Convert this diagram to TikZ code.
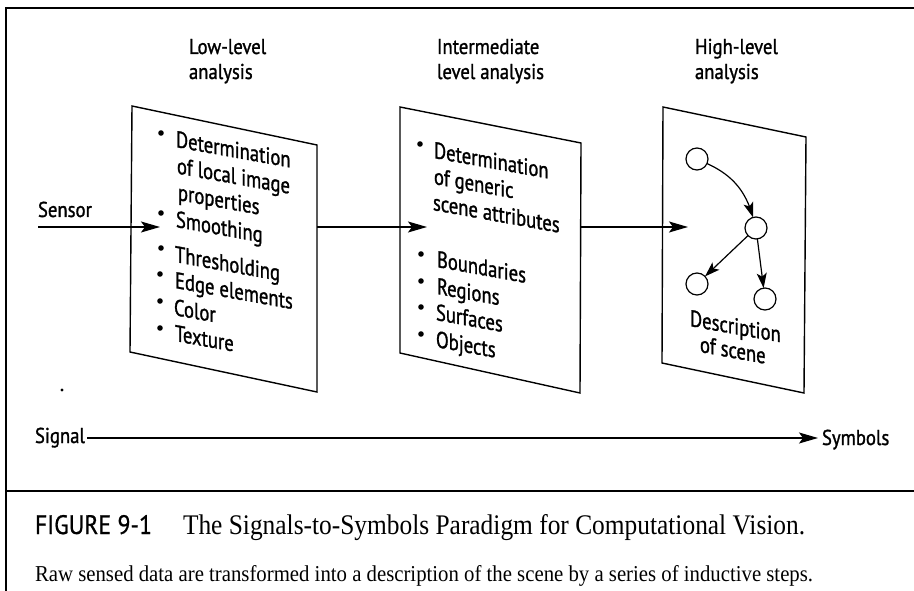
\documentclass[tikz,border=0pt]{standalone}
\usepackage{fontspec}
\setmainfont{Liberation Serif}
\newfontfamily\labelfont[FakeBold=0.8]{PT Sans}
\newfontfamily\headfont[FakeStretch=0.87,FakeBold=1.2]{PT Sans}
\newfontfamily\sheetfont[FakeStretch=0.81,FakeBold=1.2]{PT Sans}
\usetikzlibrary{arrows.meta,bending}

\begin{document}
\begin{tikzpicture}[x=1pt,y=-1pt,
  every node/.style={inner sep=0pt,outer sep=0pt},
  lbl/.style={font=\headfont\fontsize{21.5}{24}\selectfont, anchor=base west},
  item/.style={font=\sheetfont\fontsize{23}{26}\selectfont, anchor=base west, yslant=-0.18},
  bul/.style={circle, fill, minimum size=5.6pt},
  panel/.style={draw, line width=1.4pt, line join=miter},
  frame/.style={line width=1.3pt},
  flow/.style={line width=1.3pt, -{Stealth[length=19pt,width=11pt,inset=4pt]}},
  vert/.style={circle, draw, line width=1.2pt, minimum size=22pt},
  tree/.style={line width=1.2pt, -{Stealth[length=15pt,width=10pt,inset=3.5pt]}}]

\useasboundingbox (0,0) rectangle (914,591);

% frame and caption divider
\draw[frame] (914,8) -- (6,8) -- (6,591);
\draw[frame] (6,491) -- (914,491);

% stage headings
\node[lbl] (h1a) at (189,54) {Low-level};
\node[lbl] (h1b) at (189,79) {analysis};
\node[lbl] (h2a) at (437,54) {Intermediate};
\node[lbl] (h2b) at (437,79) {level analysis};
\node[lbl] (h3a) at (695,54) {High-level};
\node[lbl] (h3b) at (695,79) {analysis};

% the three slanted sheets
\draw[panel] (132,106) -- (317,145) -- (317,392) -- (130,352) -- cycle;
\draw[panel] (400,107) -- (581,143) -- (580,393) -- (400,353) -- cycle;
\draw[panel] (663,107) -- (806,137) -- (804,393) -- (662,363) -- cycle;

% low-level sheet
\node[bul] (b11) at (161,133) {};
\node[item] (t11) at (176,147) {Determination};
\node[item] (t12) at (177,173.5) {of local image};
\node[item] (t13) at (178,200) {properties};
\node[bul] (b12) at (161,213) {};
\node[item] (t14) at (176,227) {Smoothing};
\node[bul] (b13) at (161,248) {};
\node[item] (t15) at (175,262) {Thresholding};
\node[bul] (b14) at (160,274) {};
\node[item] (t16) at (175,288) {Edge elements};
\node[bul] (b15) at (160,301) {};
\node[item] (t17) at (174,315) {Color};
\node[bul] (b16) at (160,328) {};
\node[item] (t18) at (175,341) {Texture};

% intermediate sheet
\node[bul] (b21) at (420,144) {};
\node[item] (t21) at (434,158) {Determination};
\node[item] (t22) at (434,184) {of generic};
\node[item] (t23) at (433,210) {scene attributes};
\node[bul] (b22) at (421,254) {};
\node[item] (t24) at (437,267) {Boundaries};
\node[bul] (b23) at (421,281) {};
\node[item] (t25) at (437,294) {Regions};
\node[bul] (b24) at (421,307) {};
\node[item] (t26) at (436,320) {Surfaces};
\node[bul] (b25) at (421,334) {};
\node[item] (t27) at (436,347) {Objects};

% high-level sheet: scene graph
\node[vert] (c1) at (697,159) {};
\node[vert] (c2) at (756,228) {};
\node[vert] (c3) at (697,284) {};
\node[vert] (c4) at (765,299) {};
\draw[tree] (c1) to[bend left=25] (c2);
\draw[tree] (c2) -- (c3);
\draw[tree] (c2) -- (c4);
\node[item] (t31) at (690,326) {Description};
\node[item] (t32) at (700,352) {of scene};

% flow between stages
\node[lbl] (sensor) at (38,217) {Sensor};
\coordinate (s0) at (38,227);
\coordinate (in1) at (160,227);
\coordinate (out1) at (317,227);
\coordinate (in2) at (427,227);
\coordinate (out2) at (581,227);
\coordinate (in3) at (688,227);
\draw[flow] (s0) -- (in1);
\draw[flow] (out1) -- (in2);
\draw[flow] (out2) -- (in3);

% stray speck
\fill (62,390) circle (1.6pt);

% signal-to-symbol axis
\node[lbl] (signal) at (35,443) {Signal};
\node[lbl] (symbols) at (822,445) {Symbols};
\coordinate (ax0) at (87,438);
\coordinate (ax1) at (818,438);
\draw[line width=1.2pt, -{Stealth[length=19pt,width=11pt,inset=4pt]}] (ax0) -- (ax1);

% caption
\node[anchor=base west] (fig) at (35,534)
  {\resizebox{117pt}{19pt}{\labelfont FIGURE 9-1}};
\node[anchor=base west] (cap) at (183,534)
  {\resizebox{622pt}{20pt}{The Signals-to-Symbols Paradigm for Computational Vision.}};
\node[anchor=base west] (note) at (35,581)
  {\resizebox{778pt}{16pt}{Raw sensed data are transformed into a description of the scene by a series of inductive steps.}};
\end{tikzpicture}
\end{document}
